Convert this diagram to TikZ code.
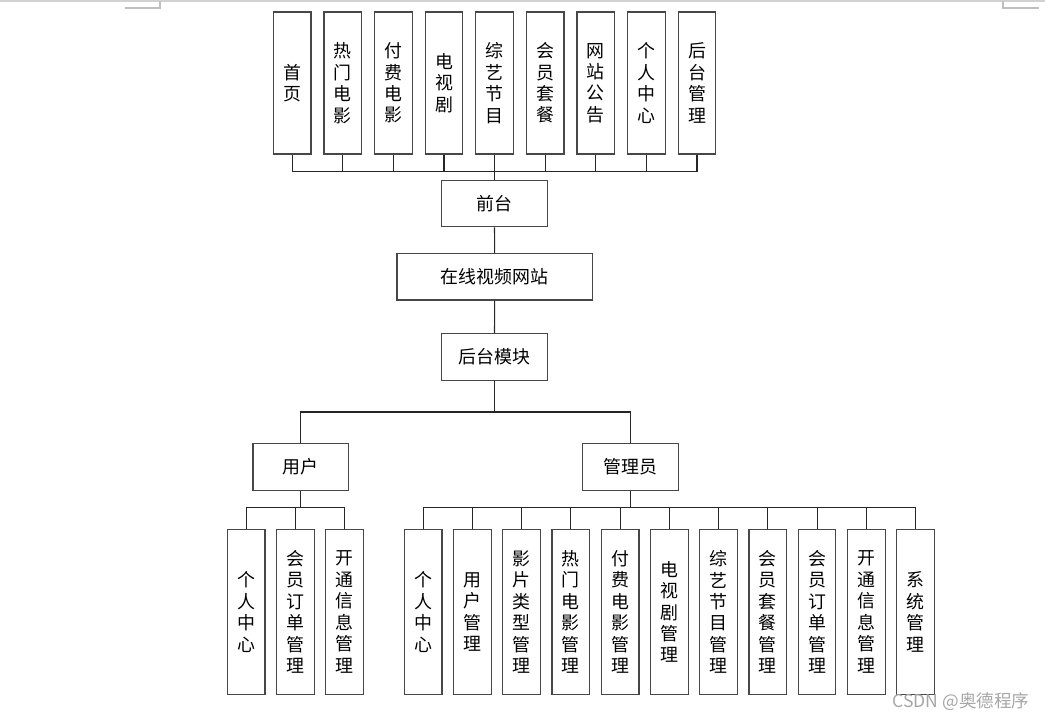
\documentclass[tikz,border=0pt]{standalone}
\usepackage{fontspec}
\setmainfont{Noto Sans CJK SC}
\begin{document}
\begin{tikzpicture}[x=0.02cm,y=-0.02cm,
  box/.style={draw=black!72,line width=0.65pt,inner sep=0pt,align=center,font=\fontsize{10.2}{12.2}\selectfont},
  tbox/.style={box,minimum width=0.752cm,minimum height=2.84cm},
  bbox/.style={box,minimum width=0.754cm,minimum height=3.29cm},
  mbox/.style={box,minimum height=0.934cm},
  conn/.style={draw=black!85,line width=0.6pt},
  cornermark/.style={draw=black!25,line width=0.6pt}]
\useasboundingbox (0,0) rectangle (1045,720);
% page edge and corner marks
\draw[draw=black!18,line width=1.2pt] (0,1) -- (1045,1);
\coordinate (cl1) at (125,8); \coordinate (cl2) at (160,8); \coordinate (cl3) at (160,1);
\draw[cornermark] (cl1) -- (cl2) -- (cl3);
\coordinate (cr1) at (1003,1); \coordinate (cr2) at (1003,8); \coordinate (cr3) at (1039,8);
\draw[cornermark] (cr1) -- (cr2) -- (cr3);
% top row
\foreach \i/\t in {0/{首\\页},1/{热\\门\\电\\影},2/{付\\费\\电\\影},3/{电\\视\\剧},4/{综\\艺\\节\\目},5/{会\\员\\套\\餐},6/{网\\站\\公\\告},7/{个\\人\\中\\心},8/{后\\台\\管\\理}}
  \node[tbox] (t\i) at ({292.2+50.6*\i},83) {\t};
% middle chain
\node[mbox,minimum width=2.112cm] (qt) at (494.5,203.5) {前台};
\node[mbox,minimum width=3.906cm] (site) at (494.6,276.7) {在线视频网站};
\node[mbox,minimum width=2.112cm] (ht) at (494.5,356.8) {后台模块};
\node[mbox,minimum width=1.914cm] (user) at (300.8,467) {用户};
\node[mbox,minimum width=1.912cm] (admin) at (630.5,467) {管理员};
% bottom user row
\foreach \i/\t in {0/{个\\人\\中\\心},1/{会\\员\\订\\单\\管\\理},2/{开\\通\\信\\息\\管\\理}}
  \node[bbox] (u\i) at ({246.2+49.15*\i},612) {\t};
% bottom admin row
\foreach \i/\t in {0/{个\\人\\中\\心},1/{用\\户\\管\\理},2/{影\\片\\类\\型\\管\\理},3/{热\\门\\电\\影\\管\\理},4/{付\\费\\电\\影\\管\\理},5/{电\\视\\剧\\管\\理},6/{综\\艺\\节\\目\\管\\理},7/{会\\员\\套\\餐\\管\\理},8/{会\\员\\订\\单\\管\\理},9/{开\\通\\信\\息\\管\\理},10/{系\\统\\管\\理}}
  \node[bbox] (a\i) at ({423.2+49.23*\i},612) {\t};
% connectors: top bus
\coordinate (tbus) at (494.5,171.7);
\foreach \i in {0,...,8} \draw[conn] (t\i.south) -- (t\i.south |- tbus);
\draw[conn] (t0.south |- tbus) -- (t8.south |- tbus);
\draw[conn,line width=0.9pt] (qt.north) -- (qt.north |- tbus);
\draw[conn] (qt.south) -- (site.north);
\draw[conn] (site.south) -- (ht.north);
% back-end branch
\coordinate (mbus) at (494.5,412);
\draw[conn] (ht.south) -- (mbus);
\draw[conn] (user.north) |- (mbus) -| (admin.north);
% user bus
\coordinate (ubus) at (300.8,507.7);
\draw[conn] (user.south) -- (ubus);
\draw[conn] (u0.north |- ubus) -- (u2.north |- ubus);
\foreach \i in {0,1,2} \draw[conn] (u\i.north |- ubus) -- (u\i.north);
% admin bus
\coordinate (abus) at (630.5,507.7);
\draw[conn] (admin.south) -- (abus);
\draw[conn] (a0.north |- abus) -- (a10.north |- abus);
\foreach \i in {0,...,10} \draw[conn] (a\i.north |- abus) -- (a\i.north);
% watermark
\node[text=black!35,font=\fontsize{10}{11}\selectfont,inner sep=0pt] (wm) at (961,702) {CSDN @奥德程序};
\end{tikzpicture}
\end{document}
